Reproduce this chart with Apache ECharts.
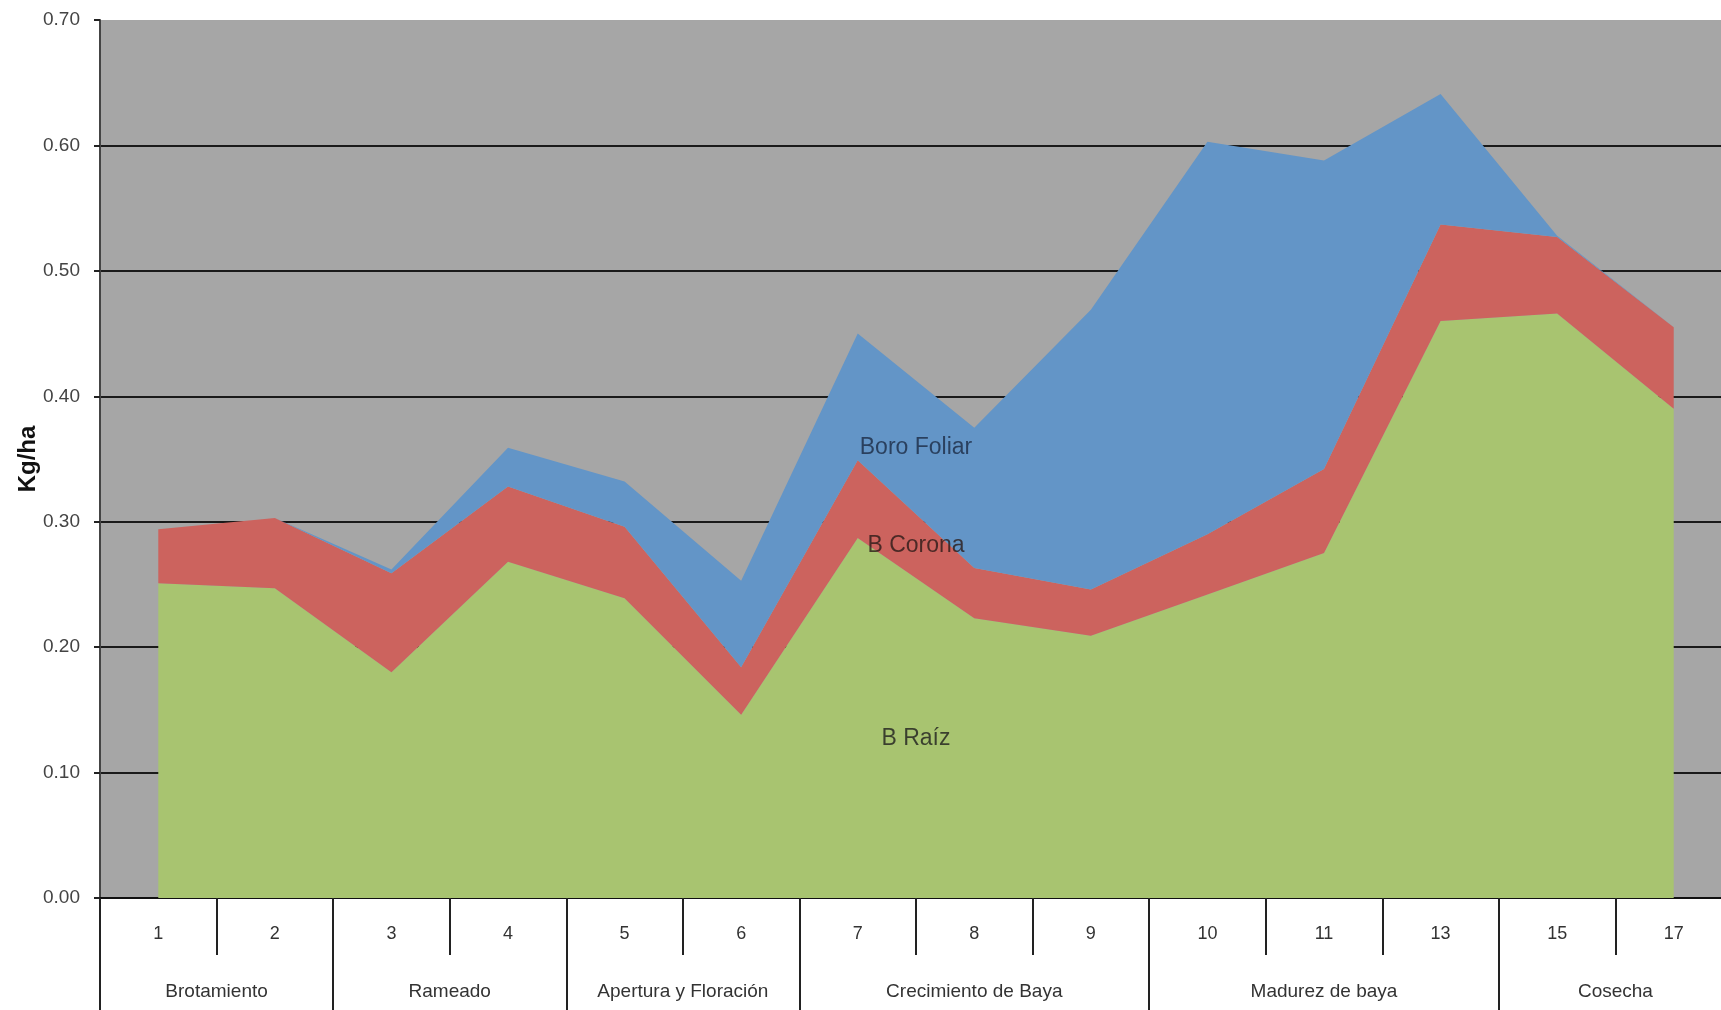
<!DOCTYPE html>
<html>
<head>
<meta charset="utf-8">
<script src="https://cdn.jsdelivr.net/npm/echarts@6/dist/echarts.min.js"></script>
<style>
  html, body { margin: 0; padding: 0; background: #fff; }
  #chart { width: 1721px; height: 1010px; }
</style>
</head>
<body>
<div id="chart"></div>
<script>
// categorías (semanas) y etapas fenológicas
const weeks = ['1', '2', '3', '4', '5', '6', '7', '8', '9', '10', '11', '13', '15', '17']
const stages = ['Brotamiento', 'Rameado', 'Apertura y Floración', 'Crecimiento de Baya', 'Madurez de baya', 'Cosecha']
const stageSizes = [2, 2, 2, 3, 3, 2]

// valores apilados (Kg/ha)
const bRaiz = [0.251, 0.247, 0.180, 0.268, 0.239, 0.146, 0.287, 0.223, 0.209, 0.242, 0.275, 0.460, 0.466, 0.390]
const bCorona = [0.043, 0.056, 0.079, 0.060, 0.057, 0.038, 0.062, 0.040, 0.037, 0.048, 0.067, 0.077, 0.061, 0.065]
const boroFoliar = [0, 0, 0.003, 0.031, 0.036, 0.069, 0.101, 0.112, 0.223, 0.313, 0.246, 0.104, 0.001, 0]

const yTicks = [0, 0.1, 0.2, 0.3, 0.4, 0.5, 0.6, 0.7]

// bordes y centros de cada etapa sobre el eje auxiliar 0..14
const stageEdges = [0]
stageSizes.forEach((n) => stageEdges.push(stageEdges[stageEdges.length - 1] + n))
const stageCenters = stageSizes.map((n, i) => stageEdges[i] + n / 2)

const fontFamily = 'Liberation Sans, Arial, sans-serif'
const chart = echarts.init(document.getElementById('chart'))

const option = {
  animation: false,
  grid: {
    left: 100,
    top: 20,
    width: 1632, // el área sigue más allá del borde derecho, como en el original
    bottom: 112,
    outerBoundsMode: 'none',
    containLabel: false,
    show: true,
    backgroundColor: '#a6a6a6',
    borderWidth: 0
  },
  xAxis: [
    {
      type: 'category',
      data: weeks,
      boundaryGap: true,
      axisLine: { show: true, lineStyle: { color: '#111', width: 2 } },
      axisTick: { show: true, interval: 0, length: 57, lineStyle: { color: '#222', width: 2 } },
      axisLabel: { interval: 0, margin: 27, fontSize: 18, color: '#333', fontFamily: fontFamily }
    },
    {
      type: 'value',
      position: 'bottom',
      min: 0,
      max: weeks.length,
      axisLine: { show: false },
      splitLine: { show: false },
      axisTick: {
        show: true,
        customValues: stageEdges,
        length: 112,
        lineStyle: { color: '#222', width: 2 }
      },
      axisLabel: {
        customValues: stageCenters,
        margin: 84,
        fontSize: 19,
        color: '#333',
        fontFamily: fontFamily,
        formatter: (v) => stages[stageCenters.indexOf(v)] || ''
      }
    }
  ],
  yAxis: {
    type: 'value',
    min: yTicks[0],
    max: yTicks[yTicks.length - 1],
    interval: 0.1,
    name: 'Kg/ha',
    nameLocation: 'middle',
    nameGap: 60,
    nameMoveOverlap: false,
    nameTextStyle: { fontSize: 24, fontWeight: 'bold', color: '#111', fontFamily: fontFamily },
    axisLine: { show: true, lineStyle: { color: '#444', width: 2 } },
    axisTick: { show: true, length: 6, lineStyle: { color: '#222', width: 2 } },
    axisLabel: {
      margin: 20,
      fontSize: 19,
      color: '#444',
      fontFamily: fontFamily,
      formatter: (v) => v.toFixed(2)
    },
    splitLine: { show: true, showMaxLine: false, lineStyle: { color: '#1a1a1a', width: 2 } }
  },
  series: [
    {
      name: 'B Raíz',
      type: 'line',
      stack: 'boro',
      data: bRaiz,
      symbol: 'none',
      lineStyle: { width: 0 },
      itemStyle: { color: '#a8c470' },
      areaStyle: { color: '#a8c470', opacity: 1 }
    },
    {
      name: 'B Corona',
      type: 'line',
      stack: 'boro',
      data: bCorona,
      symbol: 'none',
      lineStyle: { width: 0 },
      itemStyle: { color: '#cc635e' },
      areaStyle: { color: '#cc635e', opacity: 1 }
    },
    {
      name: 'Boro Foliar',
      type: 'line',
      stack: 'boro',
      data: boroFoliar,
      symbol: 'none',
      lineStyle: { width: 0 },
      itemStyle: { color: '#6395c7' },
      areaStyle: { color: '#6395c7', opacity: 1 }
    },
    // rótulos de las series, como en la planilla original
    {
      type: 'scatter',
      xAxisIndex: 1,
      symbolSize: 0,
      silent: true,
      z: 10,
      label: {
        show: true,
        position: 'inside',
        fontSize: 23,
        fontFamily: fontFamily,
        formatter: (p) => p.name
      },
      data: [
        { name: 'Boro Foliar', value: [7, 0.359], label: { color: '#1c2a44' } },
        { name: 'B Corona', value: [7, 0.281], label: { color: '#2b1a18' } },
        { name: 'B Raíz', value: [7, 0.127], label: { color: '#1e1e1e' } }
      ]
    }
  ]
}

chart.setOption(option)
</script>
</body>
</html>
